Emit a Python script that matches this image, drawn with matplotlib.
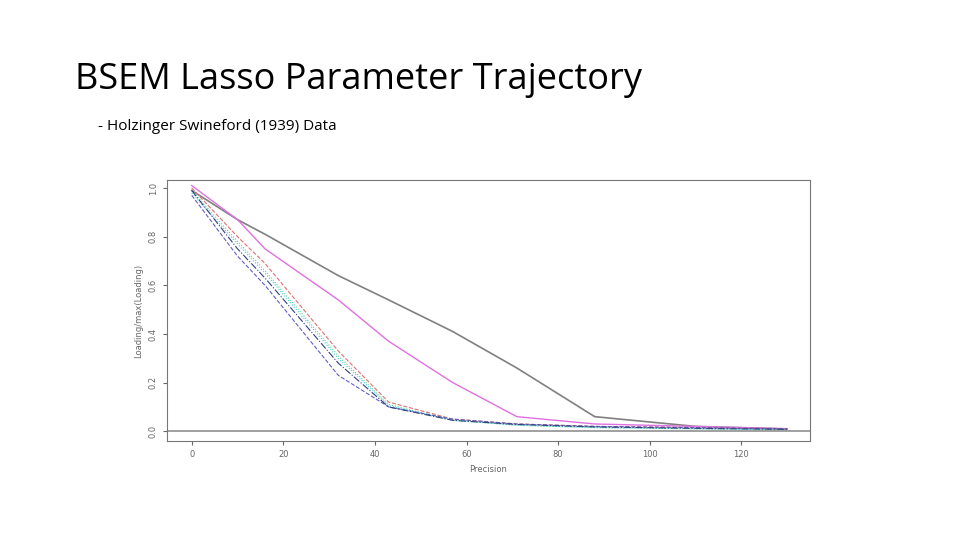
import matplotlib
matplotlib.use("Agg")
import matplotlib.pyplot as plt

# precision grid and trajectories
precision = [0, 10, 16, 32, 43, 57, 71, 88, 110, 130]
gray    = [0.99, 0.87, 0.81, 0.64, 0.54, 0.41, 0.26, 0.06, 0.02, 0.01]
magenta = [1.01, 0.87, 0.75, 0.54, 0.37, 0.20, 0.06, 0.03, 0.02, 0.01]
purple  = [0.97, 0.72, 0.60, 0.23, 0.10, 0.05, 0.03, 0.02, 0.015, 0.01]
red     = [1.00, 0.80, 0.69, 0.33, 0.12, 0.05, 0.03, 0.02, 0.015, 0.008]
cyan    = [0.98, 0.77, 0.65, 0.30, 0.105, 0.045, 0.025, 0.015, 0.01, 0.005]
green   = [0.99, 0.78, 0.66, 0.31, 0.11, 0.045, 0.025, 0.015, 0.01, 0.006]
navy    = [0.99, 0.75, 0.63, 0.28, 0.10, 0.045, 0.028, 0.018, 0.012, 0.008]

fig = plt.figure(figsize=(9.6, 5.4), dpi=100)
fig.text(75/960, 1-80/540, "BSEM Lasso Parameter Trajectory", fontsize=26,
         family="Open Sans", va="center", ha="left")
fig.text(98/960, 1-127/540, "- Holzinger Swineford (1939) Data", fontsize=11,
         family="Open Sans", va="center", ha="left")

ax = fig.add_axes([167/960, 1-441/540, (810-167)/960, (441-180)/540])
ax.plot(precision, gray, color="#808080", lw=1.2)
ax.plot(precision, magenta, color="#e070e0", lw=1)
ax.plot(precision, red, color="#e07070", lw=0.8, ls="--")
ax.plot(precision, green, color="#60d090", lw=0.8, ls=":")
ax.plot(precision, cyan, color="#40d0e0", lw=0.8, ls=":")
ax.plot(precision, purple, color="#6060c0", lw=0.8, ls="--")
ax.plot(precision, navy, color="#304080", lw=0.8, ls="-.")
ax.axhline(0, color="#909090", lw=1.2)

ax.set_xlim(-5.4, 135)
ax.set_ylim(-0.04, 1.033)
ax.set_xticks([0, 20, 40, 60, 80, 100, 120])
ax.set_yticks([0.0, 0.2, 0.4, 0.6, 0.8, 1.0])
ax.set_yticklabels(["0.0", "0.2", "0.4", "0.6", "0.8", "1.0"], rotation=90, va="center")
ax.tick_params(labelsize=6, colors="#666666", length=3)
ax.set_xlabel("Precision", fontsize=6, color="#666666")
ax.set_ylabel("Loading/max(Loading)", fontsize=6, color="#666666")
for s in ax.spines.values():
    s.set_color("#777777")

fig.savefig("out.png", dpi=100)
